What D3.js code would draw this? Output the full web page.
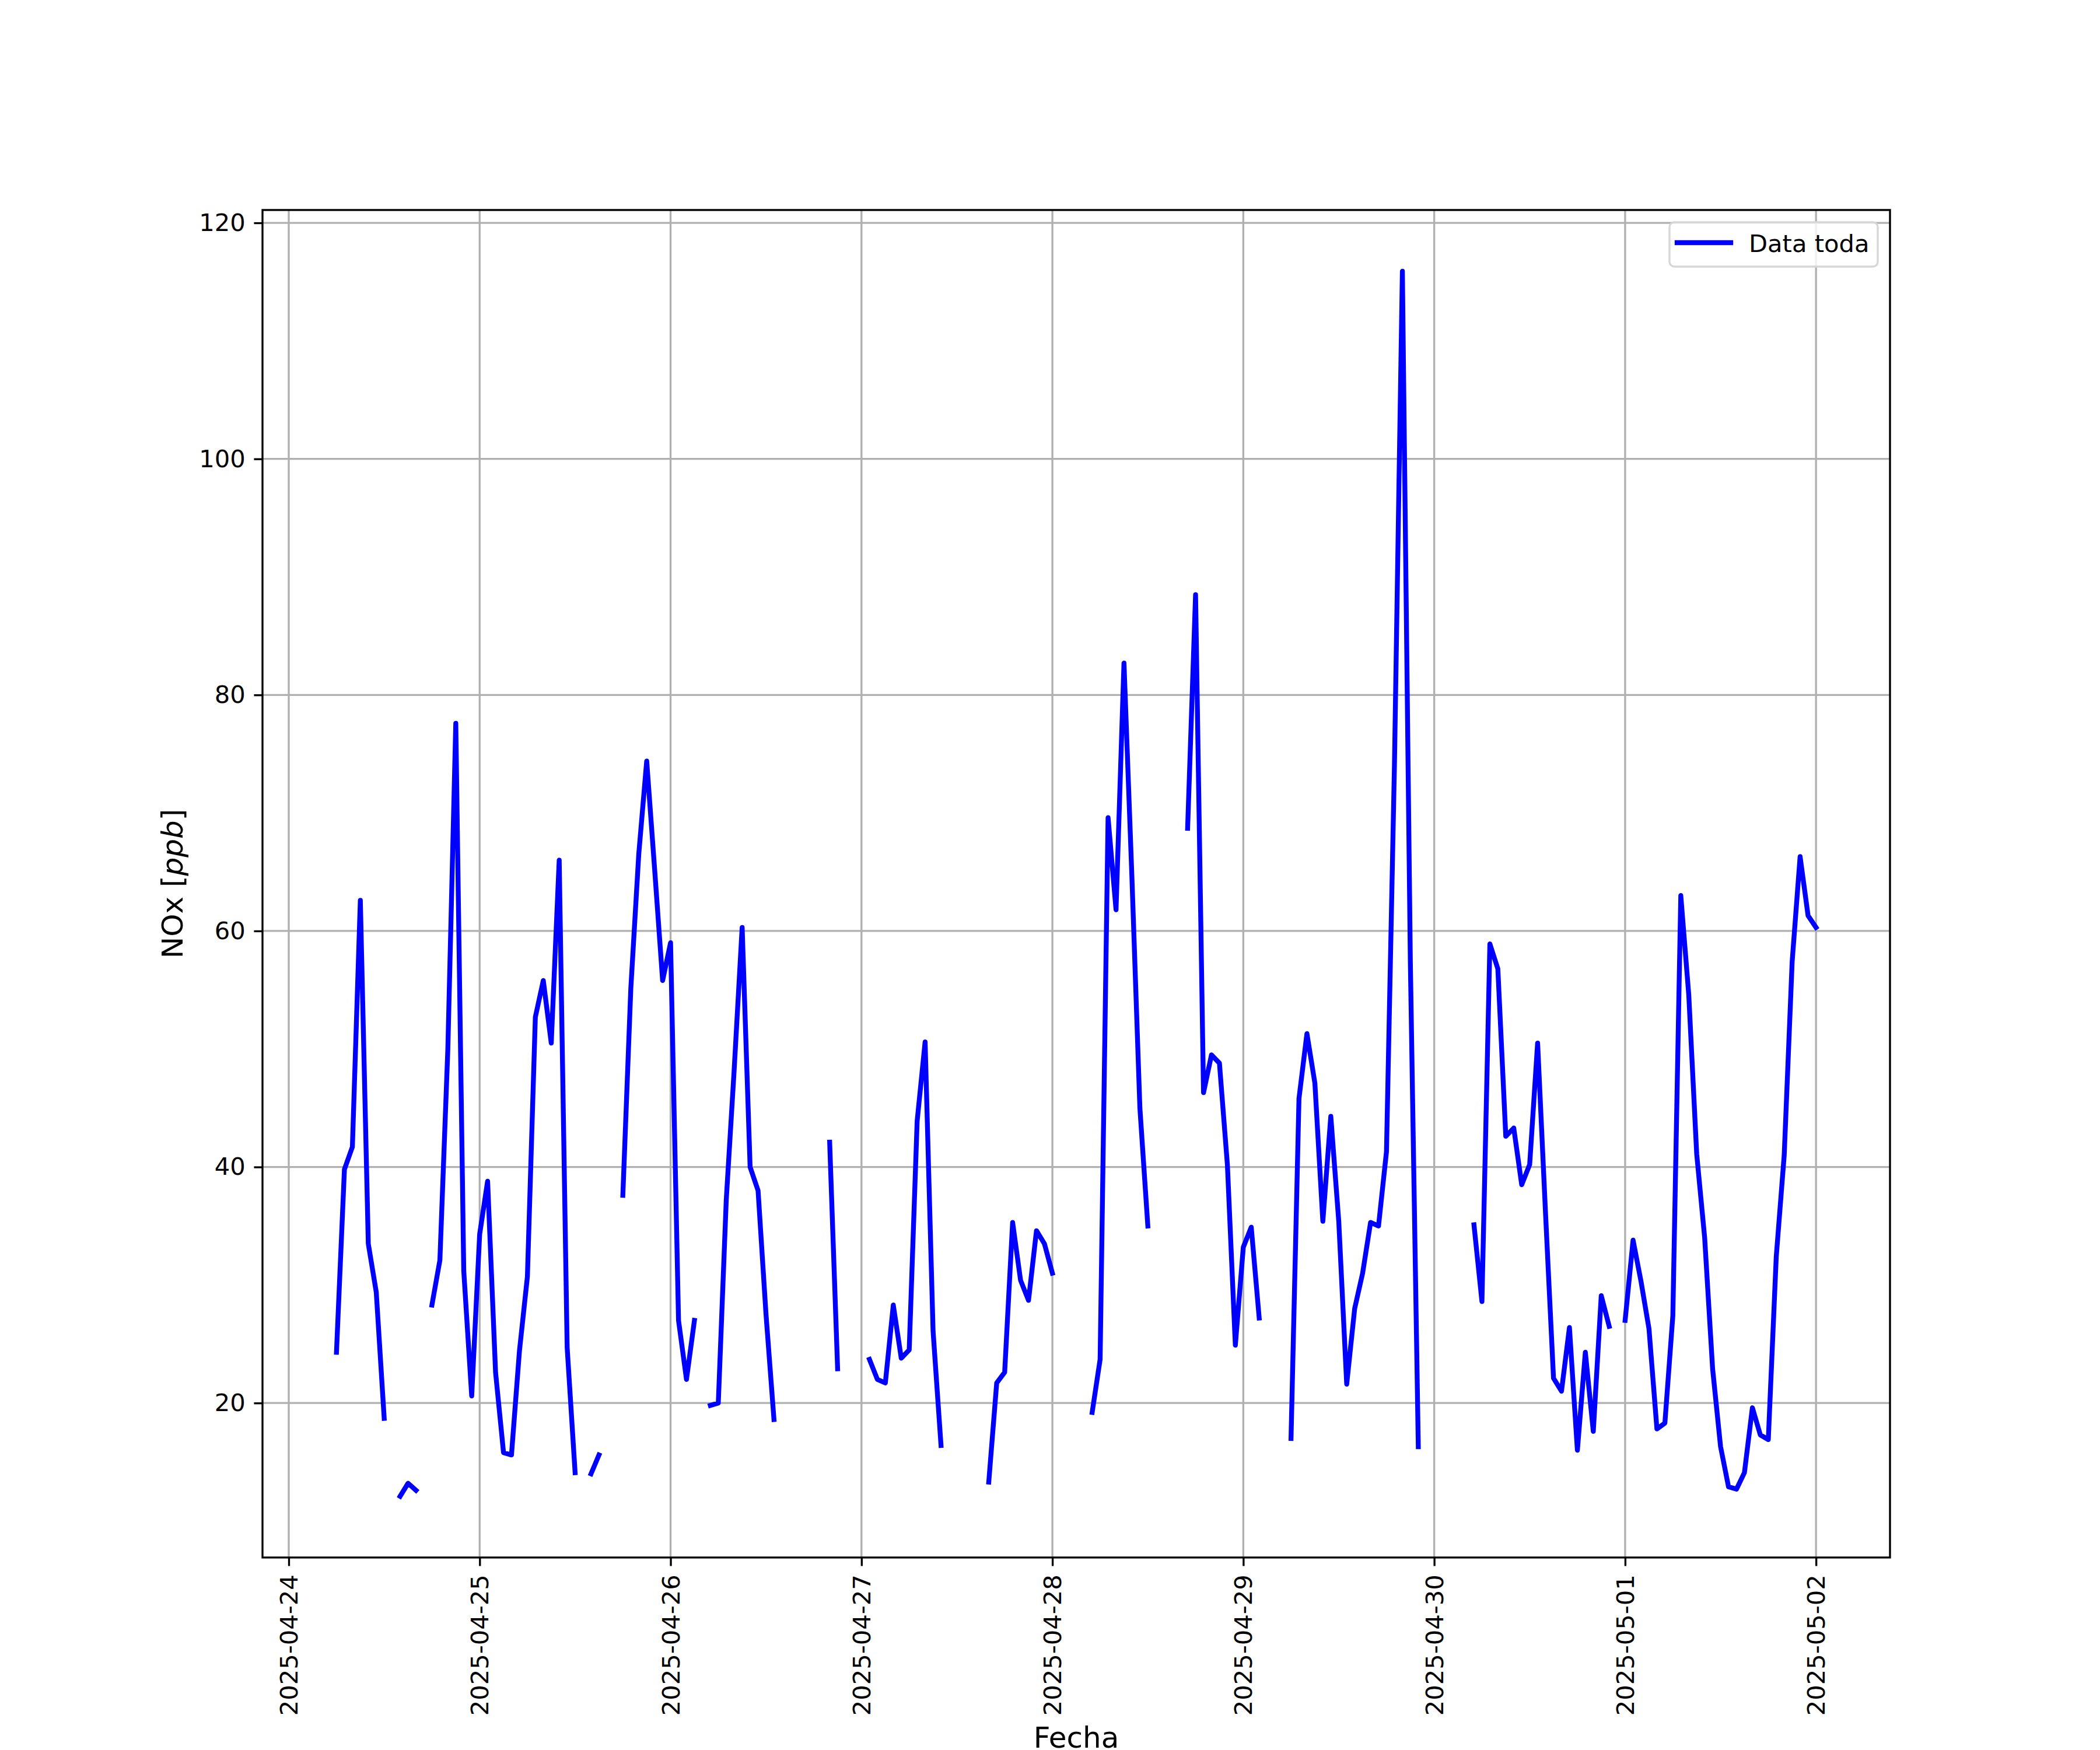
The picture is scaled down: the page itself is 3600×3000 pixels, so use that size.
<!DOCTYPE html>
<html lang="es">
<head>
<meta charset="UTF-8">
<title>NOx - Data toda</title>
<script src="https://d3js.org/d3.v7.min.js"></script>
<style>
    body { margin: 0; background: #fff; }
    svg { display: block; font-family: "DejaVu Sans", sans-serif; }
</style>
</head>
<body>
<svg id="chart" width="3600" height="3000"></svg>
<script>
// hourly NOx [ppb], one array per day starting at 00:00 (null = missing)
const apr24 = [null, null, null, null, null, null, 24.3, 39.8, 41.7, 62.6, 33.5, 29.4,
               18.7, null, 12.1, 13.2, 12.6, null, 28.3, 32.1, 50.0, 77.6, 31.2, 20.6];
const apr25 = [34.3, 38.8, 22.6, 15.8, 15.6, 24.4, 30.7, 52.7, 55.8, 50.5, 66.0, 24.7,
               14.1, null, 14.0, 15.6, null, null, 37.6, 55.1, 66.5, 74.4, 65.2, 55.8];
const apr26 = [59.0, 27.0, 22.0, 27.0, null, 19.8, 20.0, 37.2, 48.3, 60.3, 40.0, 38.0,
               27.5, 18.6, null, null, null, null, null, null, 42.1, 22.9, null, null];
const apr27 = [null, 23.7, 22.0, 21.7, 28.3, 23.8, 24.5, 43.9, 50.6, 26.1, 16.4, null,
               null, null, null, null, 13.3, 21.7, 22.6, 35.3, 30.4, 28.7, 34.6, 33.5];
const apr28 = [31.0, null, null, null, null, 19.2, 23.7, 69.6, 61.8, 82.7, 64.5, 45.0,
               35.0, null, null, null, null, 68.7, 88.5, 46.3, 49.5, 48.8, 40.2, 24.9];
const apr29 = [33.2, 34.9, 27.2, null, null, null, 17.0, 45.8, 51.3, 47.1, 35.4, 44.3,
               35.4, 21.6, 28.0, 31.0, 35.3, 35.0, 41.3, 74.0, 115.9, 57.4, 16.3, null];
const apr30 = [null, null, null, null, null, 35.1, 28.6, 58.9, 56.8, 42.6, 43.3, 38.5,
               40.2, 50.5, 36.0, 22.1, 21.0, 26.4, 16.0, 24.3, 17.6, 29.1, 26.5, null];
const may01 = [27.0, 33.8, 30.3, 26.3, 17.8, 18.3, 27.4, 63.0, 54.6, 41.1, 34.0, 22.9,
               16.3, 12.9, 12.7, 14.1, 19.6, 17.3, 16.9, 32.4, 41.0, 57.4, 66.3, 61.3];
const may02 = [60.3];

const days = [apr24, apr25, apr26, apr27, apr28, apr29, apr30, may01, may02];
const yTicks = [20, 40, 60, 80, 100, 120];
const seriesName = "Data toda";

const start = Date.UTC(2025, 3, 24, 0, 0);
const data = [];
days.forEach((arr, d) => arr.forEach((v, h) => {
    data.push({ t: new Date(start + (d * 24 + h) * 3600e3), v: v });
}));
const valid = data.filter(d => d.v != null);

// figure geometry (matplotlib default subplot params on 3600x3000)
const W = 3600, H = 3000;
const m = { left: 450, right: 3240, top: 360, bottom: 2670 };
const pt = 300 / 72;              // px per point
const fs = 10 * pt;               // tick / legend text
const fsLabel = 12 * pt;          // axis labels

function pad(ext) {
    const r = ext[1] - ext[0];
    return [ext[0] - 0.05 * r, ext[1] + 0.05 * r];
}
const tExt = d3.extent(valid, d => +d.t);
const x = d3.scaleUtc().domain(pad(tExt).map(v => new Date(v))).range([m.left, m.right]);
const y = d3.scaleLinear().domain(pad(d3.extent(valid, d => d.v))).range([m.bottom, m.top]);

const svg = d3.select("#chart");
svg.append("rect").attr("width", W).attr("height", H).attr("fill", "#fff");

const xTicks = d3.utcDay.range(new Date(Date.UTC(2025, 3, 24)), new Date(Date.UTC(2025, 4, 2, 1)));

// grid
const grid = svg.append("g").attr("stroke", "#b0b0b0").attr("stroke-width", 0.8 * pt);
grid.selectAll(".gx").data(xTicks).enter().append("line")
    .attr("x1", d => x(d)).attr("x2", d => x(d))
    .attr("y1", m.top).attr("y2", m.bottom);
grid.selectAll(".gy").data(yTicks).enter().append("line")
    .attr("x1", m.left).attr("x2", m.right)
    .attr("y1", d => y(d)).attr("y2", d => y(d));

// data line
svg.append("clipPath").attr("id", "plotclip").append("rect")
    .attr("x", m.left).attr("y", m.top)
    .attr("width", m.right - m.left).attr("height", m.bottom - m.top);
const line = d3.line().defined(d => d.v != null).x(d => x(d.t)).y(d => y(d.v));
svg.append("path").datum(data)
    .attr("clip-path", "url(#plotclip)")
    .attr("d", line)
    .attr("fill", "none").attr("stroke", "#0000ff")
    .attr("stroke-width", 2 * pt)
    .attr("stroke-linejoin", "round").attr("stroke-linecap", "square");

// axes
const xAxis = svg.append("g").attr("transform", `translate(0,${m.bottom})`)
    .call(d3.axisBottom(x).tickValues(xTicks).tickFormat(d3.utcFormat("%Y-%m-%d"))
        .tickSize(3.5 * pt).tickPadding(0));
const yAxis = svg.append("g").attr("transform", `translate(${m.left},0)`)
    .call(d3.axisLeft(y).tickValues(yTicks).tickSize(3.5 * pt).tickPadding(3.5 * pt));
[xAxis, yAxis].forEach(g => {
    g.select(".domain").remove();
    g.selectAll(".tick line").attr("stroke", "#000").attr("stroke-width", 0.8 * pt);
    g.selectAll("text").attr("fill", "#000").style("font-size", fs + "px")
        .style("font-family", "DejaVu Sans");
});
xAxis.selectAll("text")
    .attr("transform", `translate(0,${7 * pt}) rotate(-90)`)
    .attr("x", 0).attr("y", 0).attr("dy", "0.35em")
    .attr("text-anchor", "end");

// spines
svg.append("rect").attr("x", m.left).attr("y", m.top)
    .attr("width", m.right - m.left).attr("height", m.bottom - m.top)
    .attr("fill", "none").attr("stroke", "#000").attr("stroke-width", 0.8 * pt);

// axis labels
svg.append("text").attr("x", (m.left + m.right) / 2).attr("y", 2996)
    .attr("text-anchor", "middle").style("font-size", fsLabel + "px").text("Fecha");
const yl = svg.append("text")
    .attr("transform", `translate(313,${(m.top + m.bottom) / 2}) rotate(-90)`)
    .attr("text-anchor", "middle").style("font-size", fsLabel + "px");
yl.append("tspan").text("NOx [");
yl.append("tspan").style("font-style", "italic").text("ppb");
yl.append("tspan").text("]");

// legend
const lg = svg.append("g");
const lx = 2862, ly = 381, lw = 3219 - 2862, lh = 76;
lg.append("rect").attr("x", lx).attr("y", ly).attr("width", lw).attr("height", lh)
    .attr("rx", 0.2 * fs).attr("fill", "rgba(255,255,255,0.8)")
    .attr("stroke", "#d6d6d6").attr("stroke-width", 0.8 * pt);
lg.append("line").attr("x1", lx + 13).attr("x2", lx + 105)
    .attr("y1", ly + lh / 2 - 3).attr("y2", ly + lh / 2 - 3)
    .attr("stroke", "#0000ff").attr("stroke-width", 2 * pt).attr("stroke-linecap", "square");
lg.append("text").attr("x", lx + 136).attr("y", ly + 51)
    .style("font-size", fs + "px").text(seriesName);
</script>
</body>
</html>
